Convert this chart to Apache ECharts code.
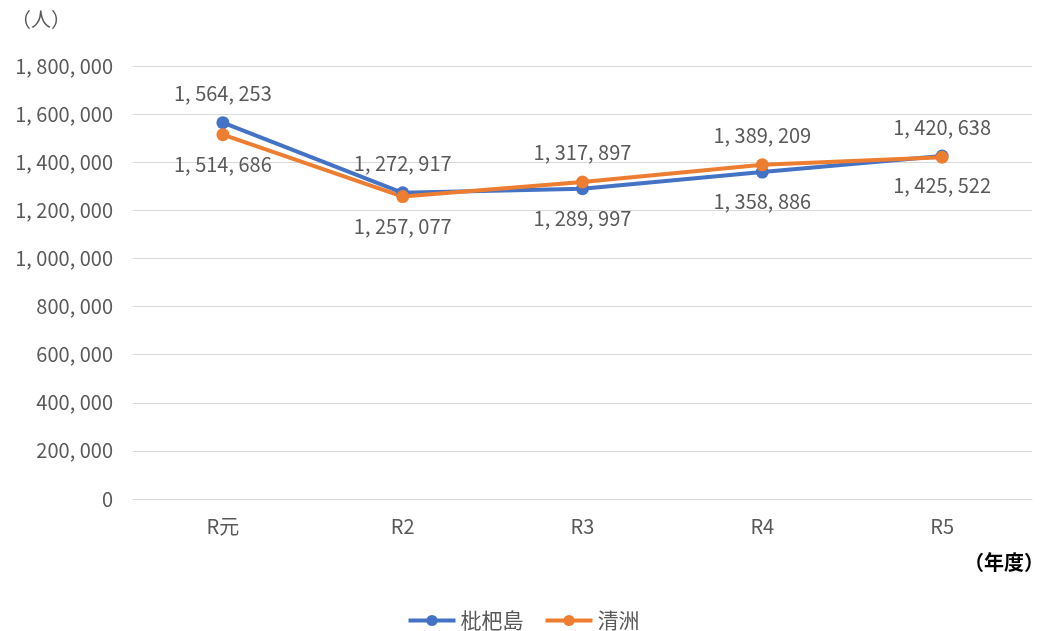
<!DOCTYPE html>
<html>
<head>
<meta charset="utf-8">
<script src="https://cdn.jsdelivr.net/npm/echarts@6/dist/echarts.min.js"></script>
<style>
    html, body { margin: 0; padding: 0; background: #fff; }
    #chart { width: 1046px; height: 631px; }
</style>
</head>
<body>
<div id="chart"></div>
<script>
// 年度（カテゴリ）
const years = ['R元', 'R2', 'R3', 'R4', 'R5'];
// 系列名
const seriesNames = ['枇杷島', '清洲'];
// 利用者数
const biwajimaValues = [1564253, 1272917, 1289997, 1358886, 1425522];
const kiyosuValues = [1514686, 1257077, 1317897, 1389209, 1420638];
// ラベルの位置（上 / 下）
const biwajimaLabelPos = ['top', 'top', 'bottom', 'bottom', 'bottom'];
const kiyosuLabelPos = ['bottom', 'bottom', 'top', 'top', 'top'];

const FONT = '"Noto Sans CJK JP", "Noto Sans", sans-serif';
const TEXT_COLOR = '#595959';

// 1,234,567 -> "1, 234, 567"
function fmt(v) {
    return String(v).replace(/\B(?=(\d{3})+(?!\d))/g, ', ');
}

function buildData(values, positions) {
    return values.map((v, i) => ({
        value: v,
        label: { position: positions[i] }
    }));
}

function makeSeries(name, values, positions, color) {
    return {
        name: name,
        type: 'line',
        data: buildData(values, positions),
        symbol: 'circle',
        symbolSize: 13,
        lineStyle: { width: 4, color: color },
        itemStyle: { color: color },
        label: {
            show: true,
            distance: 13,
            fontFamily: FONT,
            fontSize: 20,
            color: TEXT_COLOR,
            formatter: (p) => fmt(p.value)
        },
        emphasis: { disabled: true },
        animation: false
    };
}

const chart = echarts.init(document.getElementById('chart'));
chart.setOption({
    animation: false,
    grid: { left: 133, right: 14, top: 66, bottom: 132 },
    legend: {
        top: 605,
        left: 'center',
        itemWidth: 47,
        itemHeight: 14,
        itemGap: 20,
        lineStyle: { width: 4 },
        textStyle: { fontFamily: FONT, fontSize: 21, color: TEXT_COLOR },
        data: seriesNames
    },
    graphic: [
        {
            type: 'text', left: 11, top: 9,
            style: { text: '（人）', font: '20px ' + FONT, fill: TEXT_COLOR }
        },
        {
            type: 'text', right: 2, top: 552,
            style: { text: '（年度）', font: 'bold 20px ' + FONT, fill: '#000' }
        }
    ],
    xAxis: {
        type: 'category',
        data: years,
        boundaryGap: true,
        axisLine: { show: true, lineStyle: { color: '#d9d9d9', width: 1 } },
        axisTick: { show: false },
        axisLabel: { margin: 17, fontFamily: FONT, fontSize: 20, color: TEXT_COLOR }
    },
    yAxis: {
        type: 'value',
        min: 0,
        max: 1800000,
        interval: 200000,
        axisLine: { show: false },
        axisTick: { show: false },
        splitLine: { lineStyle: { color: '#d9d9d9', width: 1 } },
        axisLabel: {
            margin: 20,
            fontFamily: FONT,
            fontSize: 20,
            color: TEXT_COLOR,
            formatter: (v) => fmt(v)
        }
    },
    series: [
        makeSeries(seriesNames[0], biwajimaValues, biwajimaLabelPos, '#4472C4'),
        makeSeries(seriesNames[1], kiyosuValues, kiyosuLabelPos, '#ED7D31')
    ]
});
</script>
</body>
</html>
